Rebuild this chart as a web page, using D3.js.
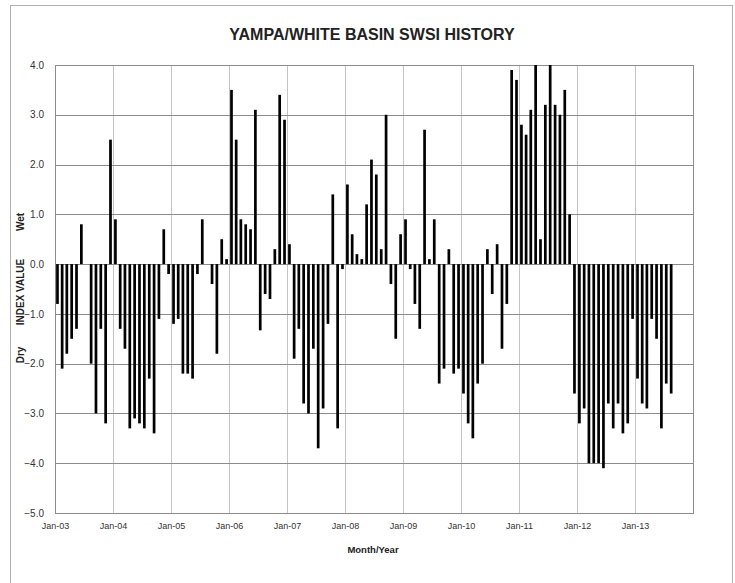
<!DOCTYPE html>
<html>
<head>
<meta charset="utf-8">
<script src="https://cdn.jsdelivr.net/npm/d3@7"></script>
<style>
  html, body { margin: 0; padding: 0; background: #fff; }
  svg { display: block; }
  text { font-family: "Liberation Sans", Arial, sans-serif; }
</style>
</head>
<body>
<svg id="chart" width="735" height="583"></svg>
<script>
// Monthly SWSI values, Jan-2003 .. Aug-2013
const startYear = 2003;
const values2003 = [-0.8, -2.1, -1.8, -1.5, -1.3, 0.8, 0.0, -2.0, -3.0, -1.3, -3.2, 2.5];
const values2004 = [0.9, -1.3, -1.7, -3.3, -3.1, -3.2, -3.3, -2.3, -3.4, -1.1, 0.7, -0.2];
const values2005 = [-1.2, -1.1, -2.2, -2.2, -2.3, -0.2, 0.9, 0.0, -0.4, -1.8, 0.5, 0.1];
const values2006 = [3.5, 2.5, 0.9, 0.8, 0.7, 3.1, -1.33, -0.6, -0.7, 0.3, 3.4, 2.9];
const values2007 = [0.4, -1.9, -1.3, -2.8, -3.0, -1.7, -3.7, -2.9, -1.2, 1.4, -3.3, -0.1];
const values2008 = [1.6, 0.6, 0.2, 0.1, 1.2, 2.1, 1.8, 0.3, 3.0, -0.4, -1.5, 0.6];
const values2009 = [0.9, -0.1, -0.8, -1.3, 2.7, 0.1, 0.9, -2.4, -2.1, 0.3, -2.2, -2.1];
const values2010 = [-2.6, -3.2, -3.5, -2.4, -2.0, 0.3, -0.6, 0.4, -1.7, -0.8, 3.9, 3.7];
const values2011 = [2.8, 2.6, 3.1, 4.0, 0.5, 3.2, 4.0, 3.2, 3.0, 3.5, 1.0, -2.6];
const values2012 = [-3.2, -2.9, -4.0, -4.0, -4.0, -4.1, -2.8, -3.3, -2.8, -3.4, -3.2, -1.1];
const values2013 = [-2.3, -2.8, -2.9, -1.1, -1.5, -3.3, -2.4, -2.6];

const yTicks = [4.0, 3.0, 2.0, 1.0, 0.0, -1.0, -2.0, -3.0, -4.0, -5.0];
const xTickLabels = ["Jan-03","Jan-04","Jan-05","Jan-06","Jan-07","Jan-08","Jan-09","Jan-10","Jan-11","Jan-12","Jan-13"];

const title = "YAMPA/WHITE BASIN SWSI HISTORY";
const xTitle = "Month/Year";

const allValues = [].concat(values2003, values2004, values2005, values2006, values2007,
  values2008, values2009, values2010, values2011, values2012, values2013);
const data = allValues.map((v, i) => ({ date: new Date(startYear, i, 1), end: new Date(startYear, i + 1, 1), value: v }));

const svg = d3.select("#chart");
const W = 735, H = 583;
const margin = { left: 55, right: 735 - 693, top: 65, bottom: 583 - 513 };

// outer frame
svg.append("rect").attr("x", 10.5).attr("y", 5.5).attr("width", 722).attr("height", 600)
  .attr("fill", "none").attr("stroke", "#b0b0b0").attr("stroke-width", 1);

const x = d3.scaleTime()
  .domain([new Date(2003, 0, 1), new Date(2014, 0, 1)])
  .range([margin.left, W - margin.right]);
const y = d3.scaleLinear().domain([-5, 4]).range([H - margin.bottom, margin.top]);

const g = svg.append("g");

// vertical gridlines (Jan of each year)
const years = d3.range(2004, 2014).map(yr => new Date(yr, 0, 1));
g.selectAll("line.vgrid").data(years).enter().append("line")
  .attr("x1", d => Math.round(x(d)) + 0.5).attr("x2", d => Math.round(x(d)) + 0.5)
  .attr("y1", y(4)).attr("y2", y(-5))
  .attr("stroke", "#c4c4c4").attr("stroke-width", 1);

// horizontal gridlines
g.selectAll("line.hgrid").data(yTicks).enter().append("line")
  .attr("x1", x.range()[0]).attr("x2", x.range()[1])
  .attr("y1", d => Math.round(y(d)) + 0.5).attr("y2", d => Math.round(y(d)) + 0.5)
  .attr("stroke", "#8c8c8c").attr("stroke-width", 1);

// plot border
g.append("rect").attr("x", x.range()[0] + 0.5).attr("y", Math.round(y(4)) + 0.5)
  .attr("width", x.range()[1] - x.range()[0]).attr("height", Math.round(y(-5)) - Math.round(y(4)))
  .attr("fill", "none").attr("stroke", "#8c8c8c");

// bars
const barW = 2.7;
svg.append("defs").append("clipPath").attr("id", "plotclip").append("rect")
  .attr("x", x.range()[0]).attr("y", y(4)).attr("width", x.range()[1] - x.range()[0]).attr("height", y(-5) - y(4));
g.append("g").attr("clip-path", "url(#plotclip)")
  .selectAll("rect.bar").data(data).enter().append("rect")
  .attr("x", d => (x(d.date) + x(d.end)) / 2 - barW / 2)
  .attr("width", barW)
  .attr("y", d => y(Math.max(0, d.value)))
  .attr("height", d => Math.abs(y(d.value) - y(0)))
  .attr("fill", "#000");

// y axis labels
const yAxis = d3.axisLeft(y).tickValues(yTicks).tickFormat(d3.format(".1f")).tickSize(0).tickPadding(11);
const ya = svg.append("g").attr("transform", `translate(${x.range()[0]},0)`).call(yAxis);
ya.select(".domain").remove();
ya.selectAll("text").attr("font-size", 10).attr("fill", "#333")
  .style("font-family", "'Liberation Sans', Arial, sans-serif");

// x axis labels
const xAxis = d3.axisBottom(x).tickValues(xTickLabels.map((_, i) => new Date(startYear + i, 0, 1)))
  .tickFormat((d, i) => xTickLabels[i]).tickSize(0).tickPadding(10);
const xa = svg.append("g").attr("transform", `translate(0,${y(-5)})`).call(xAxis);
xa.select(".domain").remove();
xa.selectAll("text").attr("font-size", 9).attr("fill", "#333")
  .style("font-family", "'Liberation Sans', Arial, sans-serif");

// title
svg.append("text").attr("x", 372).attr("y", 40).attr("text-anchor", "middle")
  .attr("font-size", 16).attr("font-weight", "bold").attr("fill", "#222").text(title);

// x title
svg.append("text").attr("x", 373).attr("y", 553).attr("text-anchor", "middle")
  .attr("font-size", 9.5).attr("font-weight", "bold").attr("fill", "#222").text(xTitle);

// y title pieces
const yt = [{ t: "Wet", c: 222 }, { t: "INDEX VALUE", c: 292 }, { t: "Dry", c: 355 }];
svg.selectAll("text.ytitle").data(yt).enter().append("text")
  .attr("transform", d => `translate(24,${d.c}) rotate(-90)`)
  .attr("text-anchor", "middle")
  .attr("font-size", 10).attr("font-weight", "bold").attr("fill", "#222")
  .text(d => d.t);
</script>
</body>
</html>
